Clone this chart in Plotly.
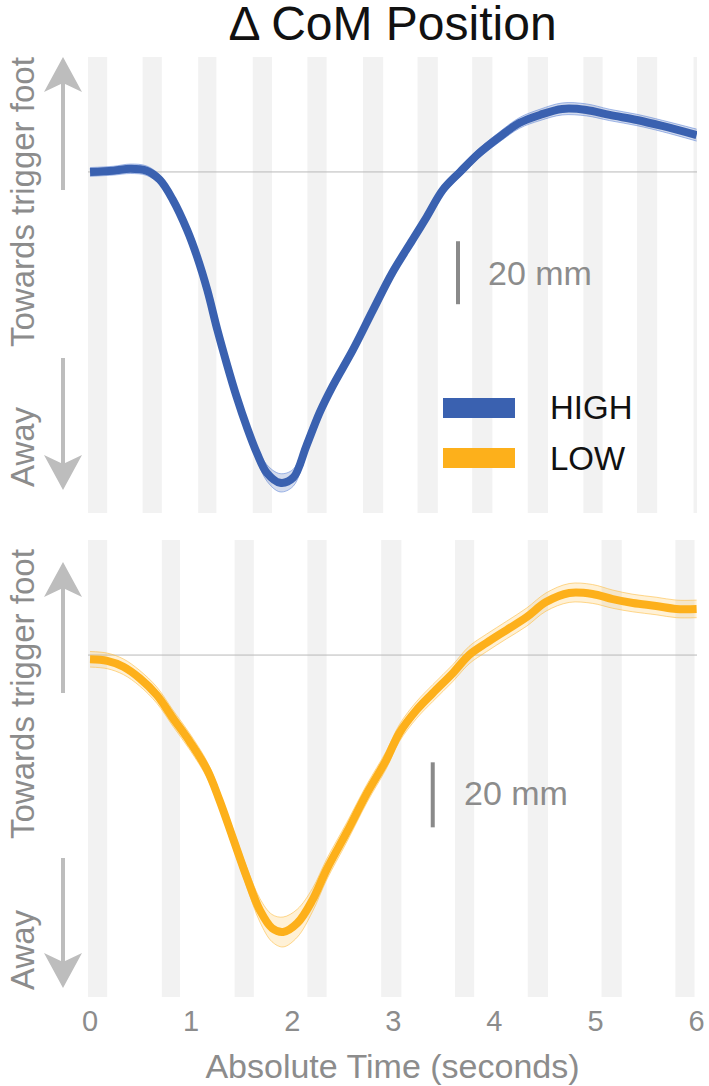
import plotly.graph_objects as go
from plotly.subplots import make_subplots

# ── data (mm, relative to starting position) ─────────────────────────────────
HIGH_T = [0.00, 0.23, 0.40, 0.56, 0.69, 0.82, 0.96, 1.06, 1.16, 1.26, 1.35, 1.45,
          1.55, 1.65, 1.75, 1.88, 2.01, 2.14, 2.27, 2.40, 2.60, 2.80, 2.99, 3.19,
          3.33, 3.49, 3.66, 3.85, 4.05, 4.25, 4.45, 4.67, 4.91, 5.14, 5.41, 5.66, 6.00]
HIGH_MM = [0.0, 0.4, 1.0, 0.4, -2.5, -8.9, -18.4, -27.0, -37.5, -50.2, -60.6, -71.4,
           -80.9, -89.2, -95.6, -98.7, -97.1, -87.0, -76.5, -68.0, -56.5, -43.8, -32.0, -21.6,
           -14.3, -5.7, 0.0, 6.0, 11.1, 15.6, 18.1, 20.0, 19.7, 18.1, 16.5, 14.6, 11.7]
HIGH_SEM = [1.4, 1.4, 1.5, 1.5, 1.5, 1.4, 1.3, 1.3, 1.3, 1.4, 1.5, 1.6,
            1.8, 2.2, 2.6, 2.9, 2.7, 2.2, 1.8, 1.5, 1.4, 1.4, 1.4, 1.4,
            1.4, 1.4, 1.5, 1.5, 1.6, 1.7, 1.8, 1.9, 1.9, 1.8, 1.8, 1.8, 1.9]

LOW_T = [0.00, 0.17, 0.33, 0.49, 0.66, 0.82, 0.99, 1.16, 1.28, 1.41, 1.55, 1.68,
         1.80, 1.91, 2.05, 2.20, 2.34, 2.54, 2.74, 2.93, 3.06, 3.23, 3.39, 3.59,
         3.75, 3.92, 4.12, 4.32, 4.51, 4.74, 4.97, 5.17, 5.37, 5.60, 5.80, 6.00]
LOW_MM = [-1.3, -1.8, -3.6, -7.1, -12.3, -19.4, -26.8, -35.4, -44.6, -56.0, -68.3, -78.5,
          -84.0, -85.2, -82.5, -75.4, -66.0, -54.5, -42.5, -32.3, -24.0, -16.9, -11.7, -5.5,
          0.0, 3.7, 7.7, 11.7, 16.3, 19.1, 18.8, 17.2, 16.0, 15.1, 14.2, 14.2]
LOW_SEM = [2.4, 2.4, 2.4, 2.4, 2.5, 2.5, 2.5, 2.5, 2.6, 2.8, 3.0, 3.6,
           4.2, 4.6, 4.3, 3.6, 3.2, 3.0, 2.8, 2.7, 2.6, 2.6, 2.6, 2.6,
           2.7, 2.7, 2.7, 2.8, 2.8, 2.9, 2.9, 2.8, 2.7, 2.7, 2.7, 2.7]

# gait phases shaded in the background (seconds)
HIGH_STRIPE_START = [-0.02, 0.52, 1.07, 1.61, 2.15, 2.70, 3.24, 3.78, 4.33, 4.88, 5.41, 5.97]
HIGH_STRIPE_END = [0.17, 0.71, 1.25, 1.80, 2.34, 2.90, 3.44, 3.98, 4.53, 5.07, 5.61, 6.02]
LOW_STRIPE_START = [-0.02, 0.71, 1.43, 2.15, 2.88, 3.61, 4.33, 5.06, 5.79]
LOW_STRIPE_END = [0.17, 0.89, 1.62, 2.34, 3.08, 3.80, 4.53, 5.26, 5.98]

X_TICKS = [0, 1, 2, 3, 4, 5, 6]
SCALE_MM = 20

BLUE = "#3a61b0"
ORANGE = "#fdb01b"
GREY_TXT = "#8c8c8c"
ARROW = "#bdbdbd"
STRIPE = "#f2f2f2"
FONT = "Liberation Sans, Arial, sans-serif"

W, H = 709, 1086
ML, MR, MT, MB = 88, 12, 57, 89


def paper(xp, yp):
    """pixel position -> paper coordinates"""
    return (xp - ML) / (W - ML - MR), (H - MB - yp) / (H - MT - MB)


fig = make_subplots(rows=2, cols=1)

panels = [
    (1, HIGH_T, HIGH_MM, HIGH_SEM, BLUE, "rgba(58,97,176,0.22)", "rgba(90,130,215,0.55)",
     HIGH_STRIPE_START, HIGH_STRIPE_END),
    (2, LOW_T, LOW_MM, LOW_SEM, ORANGE, "rgba(253,176,27,0.18)", "rgba(253,190,70,0.6)",
     LOW_STRIPE_START, LOW_STRIPE_END),
]

for row, t, m, s, col, band, edge, s0, s1 in panels:
    upper = [v + e for v, e in zip(m, s)]
    lower = [v - e for v, e in zip(m, s)]
    fig.add_trace(go.Scatter(x=t, y=upper, mode="lines", line=dict(color=edge, width=1, shape="spline"),
                             showlegend=False, hoverinfo="skip"), row=row, col=1)
    fig.add_trace(go.Scatter(x=t, y=lower, mode="lines", line=dict(color=edge, width=1, shape="spline"),
                             fill="tonexty", fillcolor=band, showlegend=False, hoverinfo="skip"),
                  row=row, col=1)
    fig.add_trace(go.Scatter(x=t, y=m, mode="lines", line=dict(color=col, width=8, shape="spline"),
                             showlegend=False), row=row, col=1)
    for a, b in zip(s0, s1):
        fig.add_vrect(x0=a, x1=b, fillcolor=STRIPE, opacity=1, line_width=0, layer="below",
                      row=row, col=1, exclude_empty_subplots=False)
    fig.add_hline(y=0, line_color="#b8b8b8", line_width=1, layer="below", row=row, col=1,
                  exclude_empty_subplots=False)

# scale bars (20 mm)
fig.add_shape(type="line", x0=3.64, x1=3.64, y0=-22, y1=-22 - SCALE_MM, xref="x", yref="y",
              line=dict(color="#8a8a8a", width=4))
fig.add_annotation(x=3.92, y=-32, xref="x", yref="y", text=f"{SCALE_MM} mm", showarrow=False,
                   xanchor="left", yanchor="middle", font=dict(size=34, color=GREY_TXT, family=FONT))
fig.add_shape(type="line", x0=3.39, x1=3.39, y0=-33, y1=-33 - SCALE_MM, xref="x2", yref="y2",
              line=dict(color="#8a8a8a", width=4))
fig.add_annotation(x=3.68, y=-42.5, xref="x2", yref="y2", text=f"{SCALE_MM} mm", showarrow=False,
                   xanchor="left", yanchor="middle", font=dict(size=34, color=GREY_TXT, family=FONT))


# direction arrows + labels on the left
def arrow(x, tip, tail):
    d = 1 if tail > tip else -1
    hx, hy = 19, 35
    p_tip = paper(x, tip)
    p_l = paper(x - hx, tip + d * hy)
    p_r = paper(x + hx, tip + d * hy)
    p_c = paper(x, tip + d * 26)
    p_t = paper(x, tail)
    fig.add_shape(type="line", xref="paper", yref="paper", x0=p_c[0], y0=p_c[1], x1=p_t[0], y1=p_t[1],
                  line=dict(color=ARROW, width=4))
    fig.add_shape(type="path", xref="paper", yref="paper",
                  path=f"M{p_tip[0]},{p_tip[1]} L{p_l[0]},{p_l[1]} L{p_c[0]},{p_c[1]} L{p_r[0]},{p_r[1]} Z",
                  fillcolor=ARROW, line=dict(width=0))


def side_label(text, yc):
    px_, py_ = paper(22, yc)
    fig.add_annotation(x=px_, y=py_, xref="paper", yref="paper", text=text, textangle=-90,
                       xanchor="center", yanchor="middle", showarrow=False,
                       font=dict(size=33, color=GREY_TXT, family=FONT))


# (label centre "towards", label centre "away", up arrow tip/tail, down arrow tip/tail)
for towards_c, away_c, up, down in [
    (202, 447, (57, 190), (490, 358)),
    (694, 950, (562, 693), (988, 858)),
]:
    arrow(63, *up)
    arrow(63, *down)
    side_label("Towards trigger foot", towards_c)
    side_label("Away", away_c)

# legend drawn by hand
for (y0, y1, c, lab) in [(398, 418, BLUE, "HIGH"), (448, 468, ORANGE, "LOW")]:
    a = paper(443, y0)
    b = paper(515, y1)
    fig.add_shape(type="rect", xref="paper", yref="paper", x0=a[0], y0=a[1], x1=b[0], y1=b[1],
                  fillcolor=c, line=dict(width=0))
    t = paper(548, (y0 + y1) / 2)
    fig.add_annotation(x=t[0], y=t[1], xref="paper", yref="paper", text=lab, showarrow=False,
                       xanchor="left", yanchor="middle", font=dict(size=33, color="#111", family=FONT))

top_dom = paper(0, 513)[1]
bot_dom = paper(0, 540)[1]

fig.update_layout(
    width=W, height=H,
    margin=dict(l=ML, r=MR, t=MT, b=MB, autoexpand=False),
    paper_bgcolor="white", plot_bgcolor="rgba(0,0,0,0)",
    font=dict(family=FONT),
    title=dict(text="Δ CoM Position", x=0.5, xref="paper", y=1 - 6 / H, yanchor="top",
               font=dict(size=48, color="#111", family=FONT)),
    showlegend=False,
    yaxis=dict(domain=[top_dom, 1], range=[-108.3, 36.5], visible=False),
    yaxis2=dict(domain=[0, bot_dom], range=[-105.2, 35.4], visible=False),
    xaxis=dict(range=[-0.02, 6.004], showgrid=False, zeroline=False, showticklabels=False,
               showline=False),
    xaxis2=dict(range=[-0.02, 6.004], showgrid=False, zeroline=False, showline=False,
                tickvals=X_TICKS, ticks="", ticklabeloverflow="allow", ticklabelstandoff=4,
                tickfont=dict(size=29, color=GREY_TXT, family=FONT),
                title=dict(text="Absolute Time (seconds)", standoff=18,
                           font=dict(size=34, color=GREY_TXT, family=FONT))),
)

# drop the default page margin so the figure sits at the window's corner
fig.write_html("out.html", config={"displayModeBar": False},
               post_script="document.body.style.margin='0';")
